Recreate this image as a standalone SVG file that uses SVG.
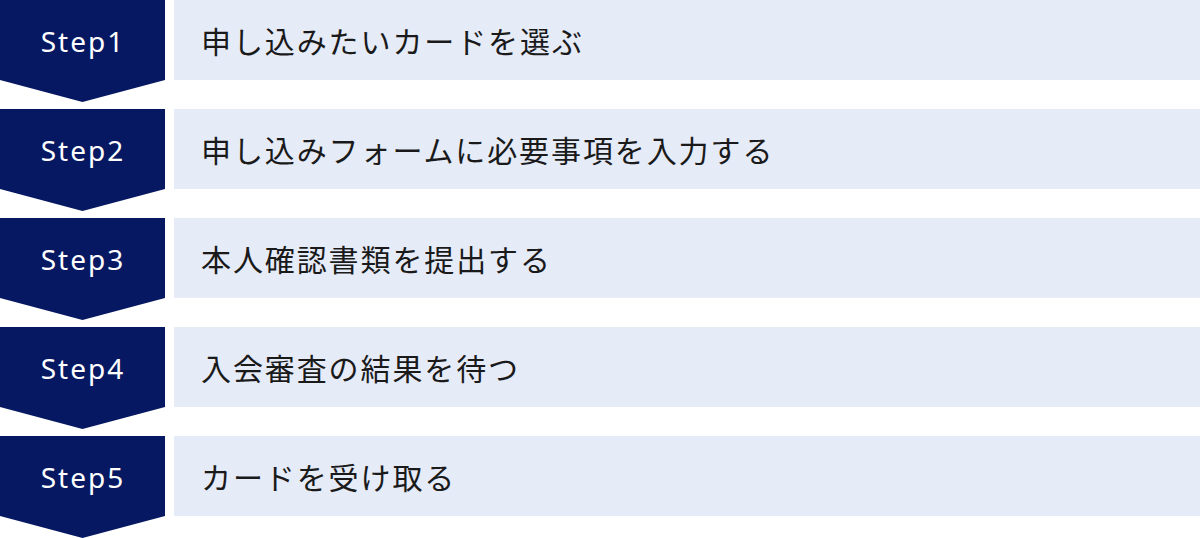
<svg xmlns="http://www.w3.org/2000/svg" width="1200" height="538" viewBox="0 0 1200 538">
<style>
.badge{fill:#061862}
.bar{fill:#E6EBF8}
.step{font-family:"Noto Sans","Noto Sans CJK JP",sans-serif;font-size:28px;font-weight:400;fill:#ffffff;text-anchor:middle;letter-spacing:2px}
.label{font-family:"Noto Sans CJK JP","Noto Sans",sans-serif;font-size:30px;fill:#1a1a1a;letter-spacing:1.9px}
</style>
<rect width="1200" height="538" fill="#ffffff"/>
<g id="connectors"></g>
<g id="step1">
<path class="badge" d="M0 0H165V80L82.5 102L0 80Z"/>
<rect class="bar" x="174" y="0" width="1026" height="80"/>
<text class="step" x="83" y="52">Step1</text>
<text class="label" x="201" y="52.5">申し込みたいカードを選ぶ</text>
</g>
<g id="step2">
<path class="badge" d="M0 109H165V189L82.5 211L0 189Z"/>
<rect class="bar" x="174" y="109" width="1026" height="80"/>
<text class="step" x="83" y="161">Step2</text>
<text class="label" x="201" y="161.5">申し込みフォームに必要事項を入力する</text>
</g>
<g id="step3">
<path class="badge" d="M0 218H165V298L82.5 320L0 298Z"/>
<rect class="bar" x="174" y="218" width="1026" height="80"/>
<text class="step" x="83" y="270">Step3</text>
<text class="label" x="201" y="270.5">本人確認書類を提出する</text>
</g>
<g id="step4">
<path class="badge" d="M0 327H165V407L82.5 429L0 407Z"/>
<rect class="bar" x="174" y="327" width="1026" height="80"/>
<text class="step" x="83" y="379">Step4</text>
<text class="label" x="201" y="379.5">入会審査の結果を待つ</text>
</g>
<g id="step5">
<path class="badge" d="M0 436H165V516L82.5 538L0 516Z"/>
<rect class="bar" x="174" y="436" width="1026" height="80"/>
<text class="step" x="83" y="488">Step5</text>
<text class="label" x="201" y="488.5">カードを受け取る</text>
</g>
</svg>
